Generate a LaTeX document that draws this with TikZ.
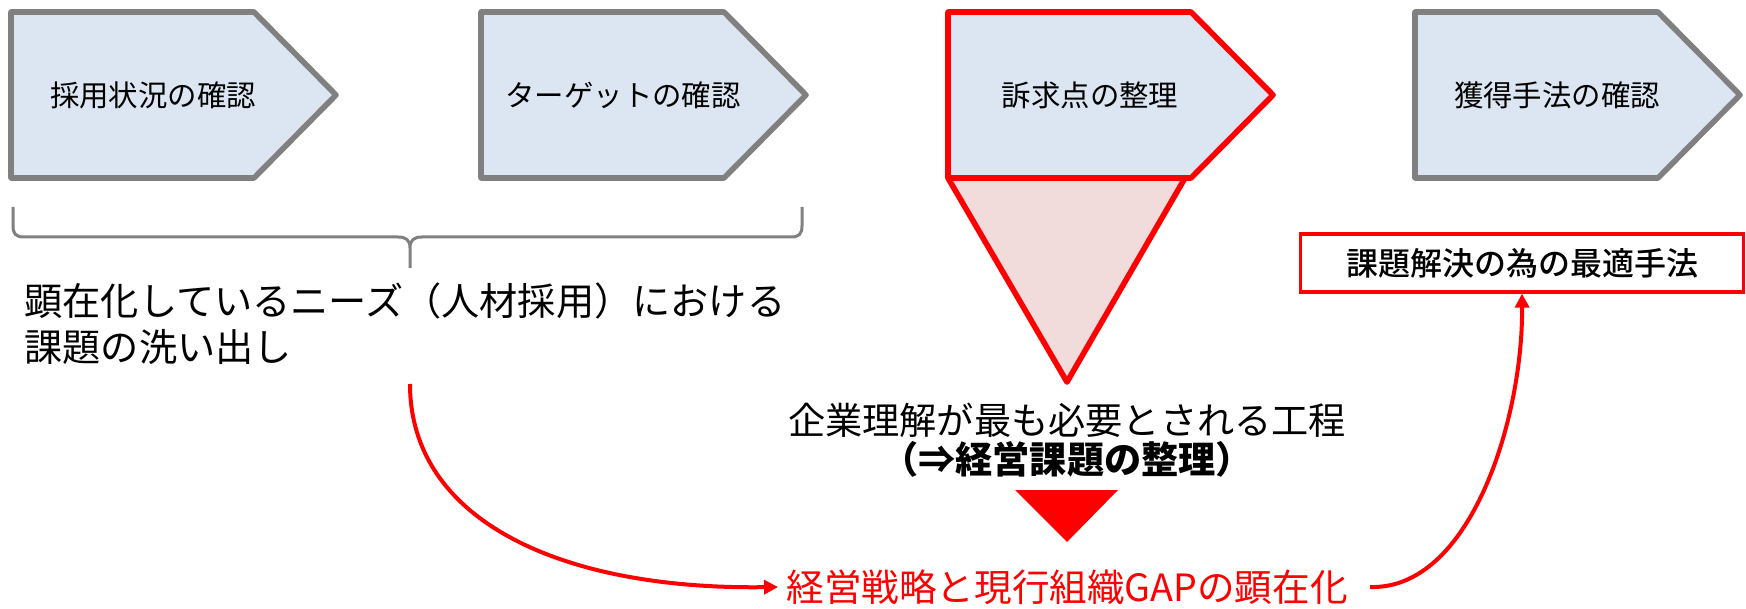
\documentclass[tikz,border=0pt]{standalone}
\usepackage{fontspec}
\setmainfont{Noto Sans CJK JP}
\newfontfamily\medfont{Noto Sans CJK JP Medium}
\usetikzlibrary{arrows.meta}
\definecolor{pfill}{HTML}{DCE6F2}
\definecolor{pgray}{HTML}{808080}
\definecolor{tfill}{HTML}{F2DCDB}
\definecolor{myred}{HTML}{FF0000}
\newcommand\mypent[2]{\draw[#2] (#1,12) -- ++(243,0) -- ++(82,83) -- ++(-82,83) -- ++(-243,0) -- cycle;}
\begin{document}
\begin{tikzpicture}[x=0.5pt,y=-0.5pt,
  pent/.style={fill=pfill,draw=pgray,line width=2.8pt,line join=round},
  pentred/.style={fill=pfill,draw=myred,line width=2.8pt,line join=round},
  plabel/.style={inner sep=0pt,font=\fontsize{14.7}{16}\selectfont},
  bigtext/.style={inner sep=0pt,font=\fontsize{19.1}{23}\selectfont},
  redline/.style={draw=myred,line width=2pt,-{Triangle[length=7pt,width=7pt]}},
]
\useasboundingbox (0,0) rectangle (1746,609);
% triangle under pentagon 3
\draw[fill=tfill,draw=myred,line width=2.8pt,line join=round] (948,178) -- (1185,178) -- (1067,382) -- cycle;
% pentagons
\mypent{11}{pent}
\mypent{481}{pent}
\mypent{948}{pentred}
\mypent{1415}{pent}
\node[plabel] (p1) at (153,95) {採用状況の確認};
\node[plabel] (p2) at (623,95) {ターゲットの確認};
\node[plabel] (p3) at (1090,95) {訴求点の整理};
\node[plabel] (p4) at (1557,95) {獲得手法の確認};
% brace
\draw[pgray,line width=1.5pt,line join=round]
  (13,207) -- (13,226) .. controls (13,234) and (16,237) .. (24,237) -- (398,237)
  .. controls (406,237) and (410,240) .. (410,248) -- (410,268)
  (410,248) .. controls (410,240) and (414,237) .. (422,237) -- (791,237)
  .. controls (799,237) and (802,234) .. (802,226) -- (802,207);
\node[bigtext,anchor=west,align=left] (needs) at (24,324) {顕在化しているニーズ（人材採用）における\\課題の洗い出し};
\coordinate (c1) at (410,384);
% center text
\node[inner sep=0pt,align=center,font=\fontsize{18.6}{19.5}\selectfont] (proc) at (1067,440)
  {企業理解が最も必要とされる工程\\\textbf{（⇒経営課題の整理）}};
\fill[myred] (1015,490) -- (1118,490) -- (1067,542) -- cycle;
\node[inner sep=4pt,text=myred,font=\fontsize{18.8}{20}\selectfont] (gap) at (1067,587) {経営戦略と現行組織GAPの顕在化};
% box
\node[draw=myred,line width=1.6pt,fill=white,minimum width=221.5pt,minimum height=29pt,inner sep=0pt,
  font=\fontsize{16}{18}\medfont] (box) at (1522,263) {課題解決の為の最適手法};
% connectors
\draw[redline] (c1) .. controls (410,520) and (560,590) .. (gap.west);
\draw[redline] ([xshift=7pt]gap.east) .. controls (1470,590) and (1523,420) .. (box.south);
\end{tikzpicture}
\end{document}
